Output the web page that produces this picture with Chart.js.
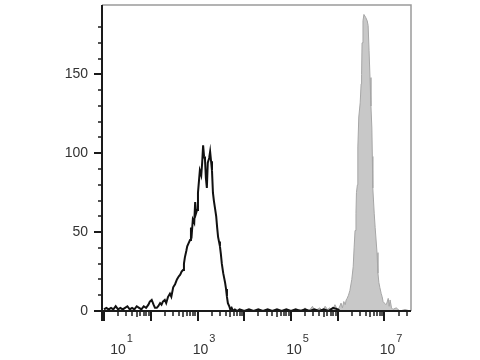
<!DOCTYPE html>
<html>
<head>
<meta charset="utf-8">
<style>
  html, body { margin: 0; padding: 0; background: #ffffff; }
  #wrap { width: 480px; height: 360px; }
</style>
<script src="https://cdn.jsdelivr.net/npm/chart.js@4/dist/chart.umd.min.js"></script>
</head>
<body>
<div id="wrap"><canvas id="c" width="480" height="360"></canvas></div>
<script>
// ---- axis ranges (log10 of fluorescence intensity) ----
const X_MIN = 0.957;
const X_MAX = 7.567;
const Y_MIN = 0;
const Y_MAX = 194;

// ---- tick labels ----
const xDecadeLabels = [1, 3, 5, 7];          // exponents labelled as 10^n
const xDecades = [1, 2, 3, 4, 5, 6, 7];      // decades with major ticks
const yLabelled = [0, 50, 100, 150];

// ---- black (unfilled) histogram: log10 channel and counts ----
const blackLog = [1.00,1.05,1.10,1.15,1.20,1.25,1.30,1.35,1.40,1.45,1.50,1.55,1.60,1.65,1.70,1.75,1.80,1.85,1.90,1.95,
  1.98,2.02,2.06,2.09,2.13,2.16,2.20,2.23,2.26,2.30,2.33,2.37,2.41,2.44,2.48,2.52,2.56,2.60,2.63,2.66,
  2.69,2.71,2.73,2.76,2.78,2.81,2.84,2.86,2.88,2.90,2.93,2.95,2.97,2.99,3.01,3.03,3.05,3.08,3.10,3.12,
  3.14,3.16,3.18,3.20,3.22,3.25,3.27,3.29,3.31,3.33,3.35,3.37,3.40,3.42,3.44,3.46,3.48,3.50,3.52,3.55,
  3.57,3.59,3.61,3.63,3.65,3.68,3.70,3.73,3.76,3.80,3.85,3.90,4.00,4.10,4.20,4.30,4.40,4.50,4.60,4.70,
  4.80,4.90,5.00,5.10,5.20,5.30,5.40,5.50,5.60,5.70,5.80,5.90,6.00,6.05];
const blackCount = [1,2,1,2,1,3,1,2,1,2,3,1,2,1,3,2,1,3,2,4,
  6,7,4,2,2,3,5,4,6,7,5,9,11,9,15,17,20,22,23,25,
  26,30,34,38,41,43,45,53,50,58,56,69,62,64,75,82,89,86,94,105,
  98,96,84,78,94,97,101,95,89,75,70,66,60,53,47,44,41,36,30,24,
  21,18,14,9,5,3,1,2,0,1,0,1,0,1,0,1,0,1,0,1,
  0,1,0,1,0,1,0,1,0,1,0,2,1,0];

// ---- grey (filled) histogram: log10 channel and counts ----
const greyLog = [5.10,5.19,5.25,5.30,5.36,5.41,5.46,5.51,5.56,5.62,5.67,5.73,5.78,5.83,5.88,5.94,5.99,6.03,6.07,6.10,
  6.13,6.16,6.18,6.20,6.23,6.26,6.30,6.33,6.35,6.37,6.39,6.40,6.42,6.43,6.45,6.48,6.50,6.51,6.52,6.54,
  6.56,6.58,6.60,6.63,6.65,6.67,6.69,6.71,6.73,6.74,6.75,6.78,6.80,6.82,6.84,6.86,6.88,6.90,6.93,6.95,
  6.97,7.00,7.03,7.05,7.08,7.10,7.12,7.15,7.18,7.25,7.33,7.44,7.55];
const greyCount = [0,1,0,2,0,1,3,0,1,2,0,3,1,2,0,4,1,2,5,2,
  6,4,7,8,10,13,20,28,40,51,62,75,80,104,123,132,144,150,170,184,
  188,187,186,184,181,165,148,130,116,98,78,62,53,45,37,24,18,15,11,9,
  6,5,4,5,8,3,7,2,1,2,0,1,0];

const toPoints = (xs, ys) => xs.map((x, i) => ({ x: x, y: ys[i] }));

const FONT = '"Liberation Sans", Arial, Helvetica, sans-serif';
const TEXT = '#333333';

const axesPlugin = {
  id: 'flowAxes',
  afterDraw(chart) {
    const ctx = chart.ctx;
    const a = chart.chartArea;
    const xs = chart.scales.x;
    const ys = chart.scales.y;
    ctx.save();
    // frame top/right in grey
    ctx.strokeStyle = '#9a9a9a';
    ctx.lineWidth = 1.5;
    ctx.beginPath();
    ctx.moveTo(a.left, a.top);
    ctx.lineTo(a.right, a.top);
    ctx.lineTo(a.right, a.bottom);
    ctx.stroke();
    // y axis line
    ctx.strokeStyle = '#1a1a1a';
    ctx.lineWidth = 2;
    ctx.beginPath();
    ctx.moveTo(a.left, a.top);
    ctx.lineTo(a.left, a.bottom + 10);
    ctx.stroke();
    // x axis line
    ctx.beginPath();
    ctx.moveTo(a.left, a.bottom);
    ctx.lineTo(a.right, a.bottom);
    ctx.stroke();
    // y ticks
    ys.ticks.forEach(t => {
      if (t.value % 10 !== 0) return;
      const y = Math.round(ys.getPixelForValue(t.value));
      const major = yLabelled.includes(t.value);
      ctx.lineWidth = major ? 2 : 1.5;
      ctx.beginPath();
      ctx.moveTo(a.left - (major ? 8 : 4), y);
      ctx.lineTo(a.left, y);
      ctx.stroke();
    });
    // x ticks
    const tick = (v, len, w) => {
      if (v < xs.min || v > xs.max) return;
      const x = Math.round(xs.getPixelForValue(v));
      ctx.lineWidth = w;
      ctx.beginPath();
      ctx.moveTo(x, a.bottom);
      ctx.lineTo(x, a.bottom + len);
      ctx.stroke();
    };
    xDecades.forEach(d => {
      tick(d, 10, 2);
      for (let k = 2; k <= 9; k++) tick(d + Math.log10(k), k === 5 ? 6 : 5, 1.5);
    });
    // x labels 10^n
    ctx.fillStyle = TEXT;
    ctx.textBaseline = 'alphabetic';
    xDecadeLabels.forEach(e => {
      let cx = xs.getPixelForValue(e) + 3;
      cx = Math.max(cx, a.left + 16);
      ctx.font = '14px ' + FONT;
      ctx.textAlign = 'center';
      ctx.fillText('10', cx, 354);
      const w = ctx.measureText('10').width;
      ctx.font = '11px ' + FONT;
      ctx.textAlign = 'left';
      ctx.fillText(String(e), cx + w / 2 + 1, 342);
    });
    ctx.restore();
  }
};

new Chart(document.getElementById('c'), {
  type: 'line',
  data: {
    datasets: [
      {
        label: 'unstained',
        data: toPoints(blackLog, blackCount),
        borderColor: '#111111',
        borderWidth: 2,
        backgroundColor: 'transparent',
        fill: false,
        pointRadius: 0,
        tension: 0,
        order: 0
      },
      {
        label: 'stained',
        data: toPoints(greyLog, greyCount),
        borderColor: '#a6a6a6',
        borderWidth: 1,
        backgroundColor: '#c8c8c8',
        fill: 'origin',
        pointRadius: 0,
        tension: 0,
        order: 1
      }
    ]
  },
  options: {
    responsive: false,
    animation: false,
    devicePixelRatio: 1,
    layout: { padding: { left: 0, top: 5, right: 69, bottom: 0 } },
    plugins: { legend: { display: false }, tooltip: { enabled: false } },
    scales: {
      x: {
        type: 'linear',
        min: X_MIN,
        max: X_MAX,
        grid: { display: false, drawTicks: false },
        border: { display: false },
        ticks: { display: false },
        afterFit(s) { s.height = 49; s.paddingLeft = 0; s.paddingRight = 0; }
      },
      y: {
        min: Y_MIN,
        max: Y_MAX,
        grid: { display: false, drawTicks: false },
        border: { display: false },
        ticks: {
          stepSize: 10,
          autoSkip: false,
          padding: 14,
          color: TEXT,
          font: { family: FONT, size: 14 },
          callback: v => (yLabelled.includes(v) ? String(v) : '')
        },
        afterFit(s) { s.width = 102; s.paddingTop = 0; s.paddingBottom = 0; }
      }
    }
  },
  plugins: [axesPlugin]
});
</script>
</body>
</html>
